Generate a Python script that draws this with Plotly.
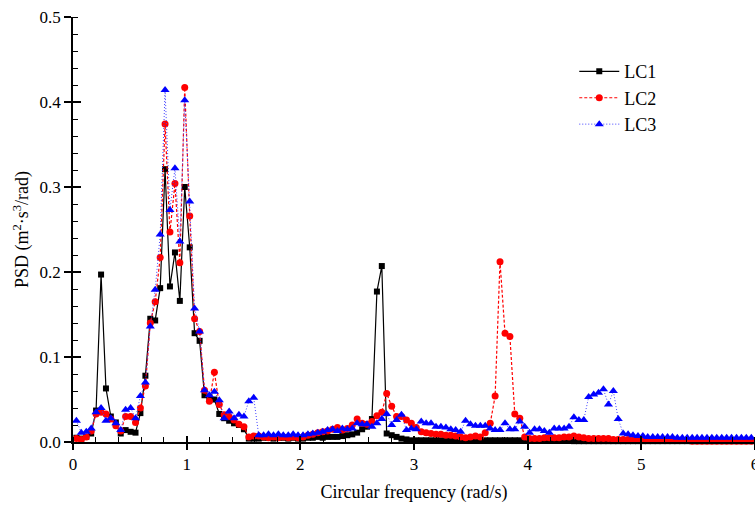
import plotly.graph_objects as go

freq = [0.030, 0.073, 0.117, 0.160, 0.203, 0.247, 0.290, 0.333, 0.377, 0.420,
        0.463, 0.507, 0.550, 0.593, 0.637, 0.680, 0.723, 0.767, 0.810, 0.853,
        0.897, 0.940, 0.983, 1.027, 1.070, 1.114, 1.157, 1.200, 1.244, 1.287,
        1.330, 1.374, 1.417, 1.460, 1.504, 1.547, 1.590, 1.634, 1.677, 1.720,
        1.764, 1.807, 1.850, 1.894, 1.937, 1.980, 2.024, 2.067, 2.110, 2.154,
        2.197, 2.240, 2.284, 2.327, 2.370, 2.414, 2.457, 2.500, 2.544, 2.587,
        2.630, 2.674, 2.717, 2.760, 2.804, 2.847, 2.890, 2.934, 2.977, 3.020,
        3.064, 3.107, 3.150, 3.194, 3.237, 3.281, 3.324, 3.367, 3.411, 3.454,
        3.497, 3.541, 3.584, 3.627, 3.671, 3.714, 3.757, 3.801, 3.844, 3.887,
        3.931, 3.974, 4.017, 4.061, 4.104, 4.147, 4.191, 4.234, 4.277, 4.321,
        4.364, 4.407, 4.451, 4.494, 4.537, 4.581, 4.624, 4.667, 4.711, 4.754,
        4.797, 4.841, 4.884, 4.927, 4.971, 5.014, 5.057, 5.101, 5.144, 5.187,
        5.231, 5.274, 5.317, 5.361, 5.404, 5.448, 5.491, 5.534, 5.578, 5.621,
        5.664, 5.708, 5.751, 5.794, 5.838, 5.881, 5.924, 5.968]

lc1 = [0.005, 0.004, 0.006, 0.010, 0.037, 0.197, 0.063, 0.030, 0.023, 0.010,
       0.014, 0.012, 0.011, 0.034, 0.078, 0.145, 0.143, 0.181, 0.321, 0.183,
       0.223, 0.166, 0.300, 0.229, 0.128, 0.119, 0.055, 0.053, 0.050, 0.033,
       0.028, 0.025, 0.022, 0.020, 0.015, 0.004, 0.004, 0.004, 0.005, 0.005,
       0.004, 0.005, 0.005, 0.004, 0.005, 0.004, 0.004, 0.005, 0.005, 0.006,
       0.005, 0.006, 0.006, 0.006, 0.007, 0.008, 0.009, 0.011, 0.015, 0.018,
       0.027, 0.177, 0.207, 0.010, 0.008, 0.006, 0.004, 0.003, 0.002, 0.002,
       0.002, 0.002, 0.002, 0.002, 0.002, 0.002, 0.002, 0.002, 0.002, 0.002,
       0.002, 0.002, 0.002, 0.002, 0.002, 0.002, 0.002, 0.002, 0.002, 0.002,
       0.002, 0.002, 0.002, 0.002, 0.002, 0.002, 0.002, 0.002, 0.002, 0.002,
       0.002, 0.001, 0.001, 0.001, 0.001, 0.001, 0.001, 0.001, 0.001, 0.001,
       0.001, 0.001, 0.001, 0.001, 0.001, 0.001, 0.001, 0.001, 0.001, 0.001,
       0.001, 0.001, 0.001, 0.001, 0.001, 0.001, 0.001, 0.001, 0.001, 0.001,
       0.001, 0.001, 0.001, 0.001, 0.001, 0.001, 0.001, 0.001]

lc2 = [0.004, 0.003, 0.006, 0.013, 0.033, 0.035, 0.033, 0.027, 0.019, 0.013,
       0.030, 0.030, 0.023, 0.040, 0.066, 0.140, 0.165, 0.217, 0.374, 0.247,
       0.304, 0.211, 0.417, 0.266, 0.145, 0.130, 0.061, 0.048, 0.082, 0.044,
       0.032, 0.030, 0.026, 0.021, 0.018, 0.006, 0.007, 0.007, 0.006, 0.005,
       0.006, 0.005, 0.006, 0.005, 0.006, 0.005, 0.006, 0.008, 0.009, 0.011,
       0.012, 0.013, 0.015, 0.017, 0.014, 0.016, 0.020, 0.027, 0.022, 0.021,
       0.024, 0.031, 0.035, 0.057, 0.042, 0.030, 0.030, 0.026, 0.022, 0.017,
       0.012, 0.011, 0.010, 0.009, 0.009, 0.008, 0.008, 0.007, 0.006, 0.005,
       0.006, 0.007, 0.006, 0.011, 0.022, 0.054, 0.212, 0.128, 0.124, 0.033,
       0.028, 0.006, 0.004, 0.004, 0.004, 0.005, 0.005, 0.005, 0.005, 0.006,
       0.006, 0.007, 0.006, 0.005, 0.004, 0.004, 0.004, 0.004, 0.004, 0.003,
       0.003, 0.003, 0.003, 0.002, 0.002, 0.002, 0.002, 0.002, 0.002, 0.002,
       0.002, 0.002, 0.002, 0.002, 0.002, 0.001, 0.001, 0.001, 0.001, 0.001,
       0.001, 0.001, 0.001, 0.001, 0.001, 0.001, 0.001, 0.001]

lc3 = [0.025, 0.011, 0.012, 0.016, 0.035, 0.040, 0.025, 0.028, 0.022, 0.014,
       0.038, 0.040, 0.028, 0.054, 0.070, 0.136, 0.179, 0.244, 0.414, 0.273,
       0.322, 0.236, 0.402, 0.283, 0.157, 0.130, 0.061, 0.055, 0.059, 0.049,
       0.028, 0.036, 0.028, 0.032, 0.030, 0.048, 0.052, 0.008, 0.008, 0.009,
       0.008, 0.009, 0.008, 0.008, 0.009, 0.008, 0.008, 0.009, 0.010, 0.011,
       0.012, 0.014, 0.015, 0.013, 0.016, 0.015, 0.016, 0.022, 0.021, 0.021,
       0.018, 0.022, 0.027, 0.033, 0.020, 0.026, 0.032, 0.014, 0.016, 0.015,
       0.024, 0.022, 0.022, 0.018, 0.018, 0.017, 0.015, 0.014, 0.012, 0.025,
       0.021, 0.019, 0.019, 0.019, 0.016, 0.014, 0.014, 0.022, 0.015, 0.015,
       0.024, 0.018, 0.011, 0.015, 0.015, 0.013, 0.011, 0.016, 0.016, 0.016,
       0.018, 0.029, 0.026, 0.026, 0.053, 0.056, 0.058, 0.062, 0.044, 0.060,
       0.027, 0.010, 0.009, 0.008, 0.007, 0.007, 0.006, 0.006, 0.006, 0.006,
       0.006, 0.006, 0.005, 0.005, 0.005, 0.005, 0.005, 0.005, 0.005, 0.005,
       0.005, 0.005, 0.005, 0.005, 0.005, 0.005, 0.005, 0.005]

x_ticks = [0, 1, 2, 3, 4, 5, 6]
y_ticks = [0.0, 0.1, 0.2, 0.3, 0.4, 0.5]

FONT = "Liberation Serif"

fig = go.Figure()
fig.add_trace(go.Scatter(
    x=freq, y=lc1, name="LC1", mode="lines+markers", cliponaxis=False,
    line=dict(color="black", width=1.2),
    marker=dict(symbol="square", size=6, color="black")))
fig.add_trace(go.Scatter(
    x=freq, y=lc2, name="LC2", mode="lines+markers", cliponaxis=False,
    line=dict(color="red", width=1.2, dash="3px,2px"),
    marker=dict(symbol="circle", size=7, color="red")))
fig.add_trace(go.Scatter(
    x=freq, y=lc3, name="LC3", mode="lines+markers", cliponaxis=False,
    line=dict(color="#4040ff", width=1.0, dash="1px,2px"),
    marker=dict(symbol="triangle-up", size=8, color="blue")))
# invisible helper trace so the overlay axes (inside half of major ticks) are drawn
fig.add_trace(go.Scatter(x=[None], y=[None], xaxis="x2", yaxis="y2",
                         showlegend=False, hoverinfo="skip"))

X_RANGE = [0, 6.0005]
axis_common = dict(showgrid=False, zeroline=False, automargin=False)
fig.update_layout(
    width=755, height=507,
    margin=dict(l=73, r=0, t=17, b=65),
    paper_bgcolor="white", plot_bgcolor="white",
    font=dict(family=FONT, size=17, color="black"),
    xaxis=dict(range=X_RANGE, tickvals=x_ticks, ticks="outside", ticklen=6,
               tickwidth=1.5, tickcolor="black", showline=True, linecolor="black",
               linewidth=1.5, tickfont=dict(size=17, family=FONT),
               ticklabeloverflow="allow",
               minor=dict(dtick=0.2, ticks="inside", ticklen=5, tickwidth=1.2,
                          tickcolor="black"),
               title=dict(text="Circular frequency (rad/s)",
                          font=dict(size=18, family=FONT), standoff=12),
               **axis_common),
    yaxis=dict(range=[0, 0.5], tickvals=y_ticks, tickformat=".1f",
               ticks="outside", ticklen=7, tickwidth=1.5, tickcolor="black",
               showline=True, linecolor="black", linewidth=1.5,
               tickfont=dict(size=17, family=FONT),
               minor=dict(dtick=0.02, ticks="inside", ticklen=5, tickwidth=1.2,
                          tickcolor="black"),
               title=dict(text="PSD (m<sup>2</sup>·s<sup>3</sup>/rad)",
                          font=dict(size=18, family=FONT), standoff=6),
               **axis_common),
    xaxis2=dict(range=X_RANGE, tickvals=x_ticks, ticks="inside", ticklen=6,
                tickwidth=1.5, tickcolor="black", showticklabels=False,
                showline=False, overlaying="x", anchor="y2", **axis_common),
    yaxis2=dict(range=[0, 0.5], tickvals=y_ticks, ticks="inside", ticklen=8,
                tickwidth=1.5, tickcolor="black", showticklabels=False,
                showline=False, overlaying="y", anchor="x2", **axis_common),
    legend=dict(x=0.735, y=0.915, xanchor="left", yanchor="top",
                bgcolor="rgba(0,0,0,0)", font=dict(size=18, family=FONT),
                tracegroupgap=0, itemwidth=40),
    showlegend=True,
)

fig.write_html("out.html",
               config={"displayModeBar": False},
               post_script="document.body.style.margin='0px';"
                           "document.body.style.overflow='hidden';")
